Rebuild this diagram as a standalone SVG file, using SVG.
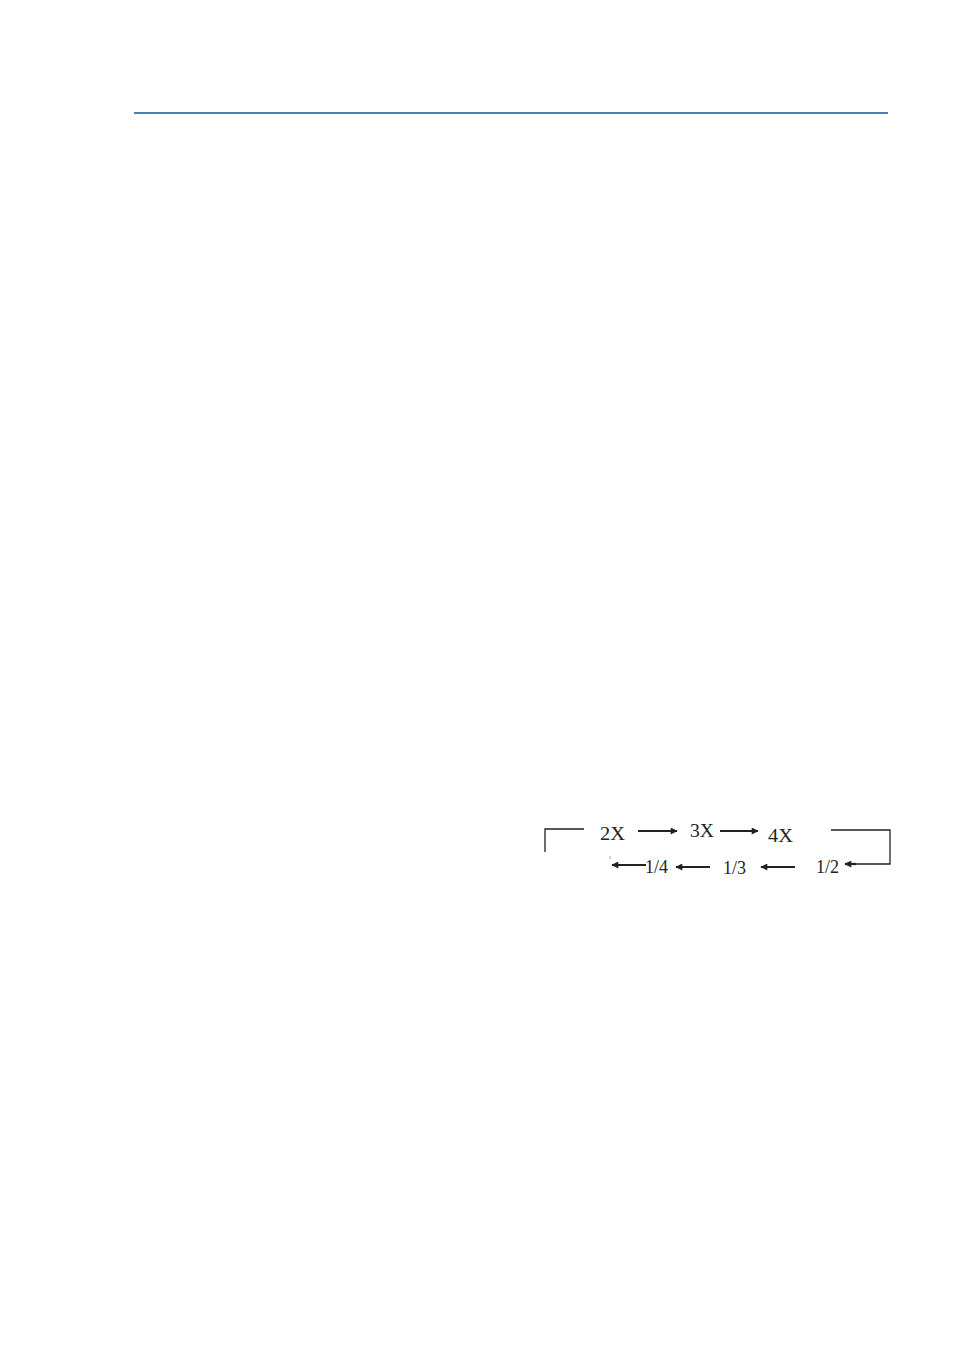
<svg xmlns="http://www.w3.org/2000/svg" width="954" height="1350" viewBox="0 0 954 1350">
<style>
.t{font-family:"Liberation Serif","Times New Roman",serif;font-size:18px;fill:#222}
.c{stroke:#222;stroke-width:1.3;fill:none}
.a{stroke:#222;stroke-width:2.2;fill:none}
</style>
<defs>
<marker id="ah" viewBox="0 0 10 10" refX="9" refY="5" markerWidth="8" markerHeight="7" markerUnits="userSpaceOnUse" orient="auto">
<path d="M0,0 L10,5 L0,10 z" fill="#222"/>
</marker>
</defs>
<rect width="954" height="1350" fill="#fff"/>
<line x1="134" y1="113" x2="888" y2="113" stroke="#4a7ebb" stroke-width="2"/>
<g id="connectors">
<path class="c" d="M545,852 V829 H584"/>
<line class="a" x1="638" y1="831" x2="677" y2="831" marker-end="url(#ah)"/>
<line class="a" x1="720" y1="831" x2="758" y2="831" marker-end="url(#ah)"/>
<path class="c" d="M831,830 H890 V864 H855"/>
<line class="a" x1="856" y1="864" x2="845" y2="864" marker-end="url(#ah)"/>
<line class="a" x1="795" y1="867" x2="761" y2="867" marker-end="url(#ah)"/>
<line class="a" x1="710" y1="867" x2="676" y2="867" marker-end="url(#ah)"/>
<line class="a" x1="646" y1="865" x2="612" y2="865" marker-end="url(#ah)"/>
<line x1="610" y1="856" x2="610" y2="859" stroke="#888" stroke-width="0.8"/>
</g>
<g id="n2x"><text class="t" x="600" y="840" textLength="25" lengthAdjust="spacingAndGlyphs">2X</text></g>
<g id="n3x"><text class="t" x="690" y="837" textLength="24" lengthAdjust="spacingAndGlyphs">3X</text></g>
<g id="n4x"><text class="t" x="768" y="842" textLength="25" lengthAdjust="spacingAndGlyphs">4X</text></g>
<g id="n12"><text class="t" x="816" y="873">1/2</text></g>
<g id="n13"><text class="t" x="723" y="874">1/3</text></g>
<g id="n14"><text class="t" x="645" y="873">1/4</text></g>
</svg>
